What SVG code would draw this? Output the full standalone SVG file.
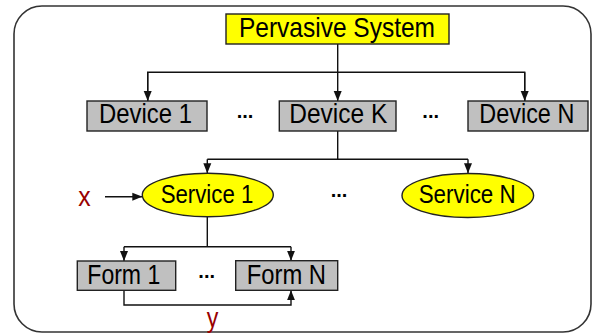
<svg xmlns="http://www.w3.org/2000/svg" width="592" height="333" viewBox="0 0 592 333">
<defs>
<style>
.frame{fill:#ffffff;stroke:#333333;stroke-width:1.6}
.gray{fill:#c0c0c0;stroke:#222222;stroke-width:1.4}
.yellow{fill:#ffff00;stroke:#222222;stroke-width:1.4}
.lbl{font-family:"Liberation Sans",Arial,sans-serif;font-size:28px;fill:#000000}
.svc{font-family:"Liberation Sans",Arial,sans-serif;font-size:26px;fill:#000000}
.var{font-family:"Liberation Sans",Arial,sans-serif;font-size:28px;fill:#990000}
.dots{font-family:"Liberation Sans",Arial,sans-serif;font-size:20px;font-weight:bold;fill:#000000;text-anchor:middle}
.conn{fill:none;stroke:#111111;stroke-width:1.4}
</style>
<marker id="arr" markerUnits="userSpaceOnUse" markerWidth="10" markerHeight="10" viewBox="0 0 10 10" refX="10" refY="5" orient="auto">
<path d="M0,1 L10,5 L0,9 Z" fill="#111111"/>
</marker>
</defs>
<rect class="frame" x="14" y="6" width="577" height="326" rx="28" ry="28"/>
<g id="connectors">
<line class="conn" x1="337.7" y1="44" x2="337.7" y2="101" marker-end="url(#arr)"/>
<path class="conn" d="M147.7,101 L147.7,72.3 L524.7,72.3 L524.7,101" />
<line class="conn" x1="147.7" y1="72.3" x2="147.7" y2="101" marker-end="url(#arr)"/>
<line class="conn" x1="524.7" y1="72.3" x2="524.7" y2="101" marker-end="url(#arr)"/>
<path class="conn" d="M337.7,131 L337.7,159.3"/>
<path class="conn" d="M207.3,159.3 L468,159.3"/>
<line class="conn" x1="207.3" y1="159.3" x2="207.3" y2="173.3" marker-end="url(#arr)"/>
<line class="conn" x1="468" y1="159.3" x2="468" y2="173.3" marker-end="url(#arr)"/>
<line class="conn" x1="105" y1="196.7" x2="142.3" y2="196.7" marker-end="url(#arr)"/>
<path class="conn" d="M207.3,217 L207.3,246.7 M124,246.7 L291,246.7"/>
<line class="conn" x1="124" y1="246.7" x2="124" y2="261" marker-end="url(#arr)"/>
<line class="conn" x1="291" y1="246.7" x2="291" y2="260.7" marker-end="url(#arr)"/>
<path class="conn" d="M124,290.3 L124,305 L291,305 L291,290.3" marker-end="url(#arr)"/>
</g>
<g id="pervasive-system">
<rect class="yellow" x="226" y="14" width="223" height="30"/>
<text class="lbl" x="239" y="36.7" textLength="196" lengthAdjust="spacingAndGlyphs">Pervasive System</text>
</g>
<g id="device-1">
<rect class="gray" x="87" y="101" width="120" height="30"/>
<text class="lbl" x="99" y="123.3" textLength="93" lengthAdjust="spacingAndGlyphs">Device 1</text>
</g>
<g id="device-k">
<rect class="gray" x="279.3" y="101" width="116.7" height="30"/>
<text class="lbl" x="289.3" y="123.3" textLength="98" lengthAdjust="spacingAndGlyphs">Device K</text>
</g>
<g id="device-n">
<rect class="gray" x="468" y="101" width="120" height="30"/>
<text class="lbl" x="479.3" y="123.3" textLength="95" lengthAdjust="spacingAndGlyphs">Device N</text>
</g>
<g id="dots">
<text class="dots" x="245" y="118">...</text>
<text class="dots" x="430.7" y="118">...</text>
<text class="dots" x="339" y="197">...</text>
<text class="dots" x="206.7" y="278">...</text>
</g>
<g id="service-1">
<ellipse class="yellow" cx="207.8" cy="195" rx="65.5" ry="21.8"/>
<text class="svc" x="160.7" y="203.3" textLength="92.6" lengthAdjust="spacingAndGlyphs">Service 1</text>
</g>
<g id="service-n">
<ellipse class="yellow" cx="467.8" cy="195.5" rx="65.8" ry="22"/>
<text class="svc" x="418.7" y="203.3" textLength="97" lengthAdjust="spacingAndGlyphs">Service N</text>
</g>
<g id="form-1">
<rect class="gray" x="77.3" y="261" width="98.4" height="29.3"/>
<text class="lbl" x="87.3" y="284" textLength="73" lengthAdjust="spacingAndGlyphs">Form 1</text>
</g>
<g id="form-n">
<rect class="gray" x="235.7" y="260.7" width="102" height="29.6"/>
<text class="lbl" x="246.7" y="284" textLength="79.3" lengthAdjust="spacingAndGlyphs">Form N</text>
</g>
<g id="label-x">
<text class="var" x="78.3" y="205.7" textLength="12.4" lengthAdjust="spacingAndGlyphs">x</text>
</g>
<g id="label-y">
<text class="var" x="206.7" y="326.5" textLength="11.6" lengthAdjust="spacingAndGlyphs">y</text>
</g>
</svg>
